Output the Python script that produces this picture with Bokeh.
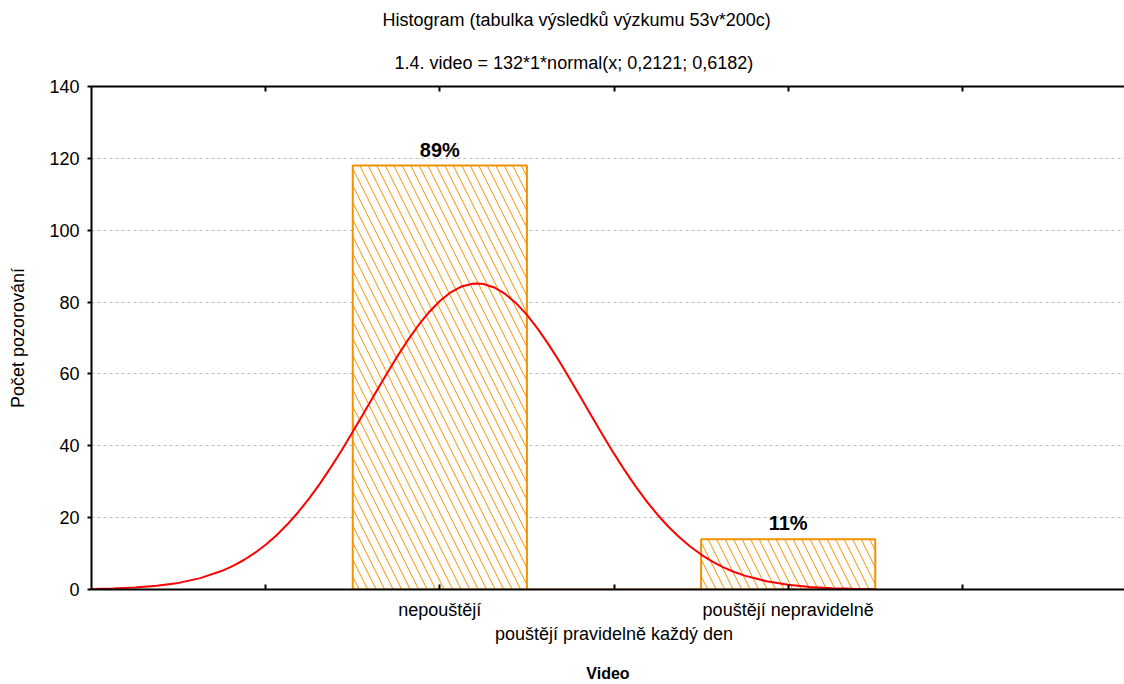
from bokeh.plotting import figure
from bokeh.models import Range1d, FixedTicker, LinearAxis, Title, ColumnDataSource
from bokeh.embed import file_html
from bokeh.resources import INLINE
from bokeh.core.properties import value

title_text = "Histogram (tabulka výsledků výzkumu 53v*200c)"
subtitle_text = "1.4. video = 132*1*normal(x; 0,2121; 0,6182)"
x_axis_title = "Video"
y_axis_title = "Počet pozorování"

categories = ["nepouštějí", "pouštějí pravidelně každý den", "pouštějí nepravidelně"]
category_x = [0, 1, 2]
counts = [118, 0, 14]
percent_labels = ["89%", "", "11%"]

y_ticks = [0, 20, 40, 60, 80, 100, 120, 140]
x_ticks = [-1, 0, 1, 2, 3]

# fitted normal curve
curve_x = [-2.0, -1.875, -1.75, -1.625, -1.5, -1.375, -1.25, -1.1875, -1.125, -1.0625,
           -1.0, -0.9375, -0.875, -0.8125, -0.75, -0.6875, -0.625, -0.5625, -0.5, -0.4375,
           -0.375, -0.3125, -0.25, -0.1875, -0.125, -0.0625, 0.0, 0.0625, 0.125, 0.1875,
           0.2121, 0.25, 0.3125, 0.375, 0.4375, 0.5, 0.5625, 0.625, 0.6875, 0.75,
           0.8125, 0.875, 0.9375, 1.0, 1.0625, 1.125, 1.1875, 1.25, 1.3125, 1.375,
           1.4375, 1.5, 1.5625, 1.625, 1.6875, 1.75, 1.875, 2.0, 2.125, 2.25,
           2.375, 2.5]
curve_y = [0.14, 0.29, 0.55, 1.03, 1.84, 3.16, 5.20, 6.57, 8.21, 10.17,
           12.46, 15.12, 18.15, 21.57, 25.38, 29.55, 34.06, 38.85, 43.88, 49.04,
           54.26, 59.42, 64.42, 69.12, 73.42, 77.18, 80.31, 82.72, 84.34, 85.11,
           85.18, 85.02, 84.06, 82.27, 79.70, 76.42, 72.54, 68.15, 63.37, 58.34,
           53.15, 47.93, 42.79, 37.81, 33.07, 28.63, 24.53, 20.81, 17.47, 14.52,
           11.95, 9.73, 7.84, 6.25, 4.94, 3.86, 2.29, 1.30, 0.71, 0.37,
           0.19, 0.09]

FONT = "Liberation Sans"
ORANGE = "#F39200"

p = figure(width=1124, height=684, output_backend="svg", toolbar_location=None,
           x_range=Range1d(-2, 3.931), y_range=Range1d(0, 140),
           min_border_left=91, min_border_right=0, min_border_top=86,
           min_border_bottom=60)
p.outline_line_color = None
p.background_fill_color = "white"
p.border_fill_color = "white"

xa = p.below[0]
ya = p.left[0]

# main title (p.title)
p.title.text = title_text
p.title.align = "left"
p.title.offset = 291
p.title.text_font = FONT
p.title.text_font_size = "18px"
p.title.text_font_style = "normal"
p.title.text_color = "black"
p.title.standoff = 15

# top axis (frame line with inward ticks, no labels)
top_axis = LinearAxis(ticker=FixedTicker(ticks=[], minor_ticks=x_ticks),
                      major_tick_in=5, major_tick_out=0,
                      minor_tick_in=5, minor_tick_out=0,
                      minor_tick_line_width=2, minor_tick_line_color="black",
                      axis_line_width=2, major_tick_line_width=2,
                      major_label_standoff=0)
p.add_layout(top_axis, "above")
p.add_layout(Title(text=subtitle_text, align="left", offset=303,
                   text_font=FONT, text_font_size="18px", standoff=27,
                   text_font_style="normal", text_color="black"), "above")

# grid
p.xgrid.visible = False
p.ygrid.ticker = FixedTicker(ticks=y_ticks)
p.ygrid.grid_line_color = "#BDBDBD"
p.ygrid.grid_line_dash = "3 3"
p.ygrid.grid_line_width = 1

# y axis
ya.ticker = FixedTicker(ticks=y_ticks)
ya.major_tick_out = 4
ya.major_tick_in = 0
ya.minor_tick_line_color = None
ya.axis_line_width = 2
ya.major_tick_line_width = 2
ya.major_label_text_font = FONT
ya.major_label_text_font_size = "18px"
ya.major_label_text_color = "black"
ya.major_label_standoff = 8
ya.axis_label = y_axis_title
ya.axis_label_text_font = FONT
ya.axis_label_text_font_size = "18px"
ya.axis_label_text_font_style = "normal"
ya.axis_label_text_color = "black"
ya.axis_label_standoff = 18

# x axis: labelled ticks at the categories, plain ticks at the others
xa.ticker = FixedTicker(ticks=category_x,
                        minor_ticks=[t for t in x_ticks if t not in category_x])
overrides = {}
for i, (cx, name) in enumerate(zip(category_x, categories)):
    overrides[cx] = ("\n" + name) if i % 2 == 1 else name
xa.major_label_overrides = overrides
xa.major_tick_in = 5
xa.major_tick_out = 0
xa.minor_tick_in = 5
xa.minor_tick_out = 0
xa.minor_tick_line_width = 2
xa.minor_tick_line_color = "black"
xa.axis_line_width = 2
xa.major_tick_line_width = 2
xa.major_label_text_font = FONT
xa.major_label_text_font_size = "18px"
xa.major_label_text_color = "black"
xa.major_label_standoff = 10
xa.axis_label = x_axis_title
xa.axis_label_text_font = FONT
xa.axis_label_text_font_size = "16px"
xa.axis_label_text_font_style = "bold"
xa.axis_label_text_color = "black"
xa.axis_label_standoff = 18

# bars
p.vbar(x=category_x, top=counts, bottom=0, width=1.0,
       fill_color="white", line_color=ORANGE, line_width=2,
       hatch_pattern="\\", hatch_color=ORANGE, hatch_scale=17, hatch_weight=1)

# percent labels (only for bars that have a label)
keep = [i for i, t in enumerate(percent_labels) if t]
label_src = ColumnDataSource(data=dict(
    x=[category_x[i] for i in keep],
    y=[counts[i] for i in keep],
    t=[percent_labels[i] for i in keep]))
p.text(x="x", y="y", text="t", source=label_src,
       text_align="center", text_baseline="bottom", y_offset=-5,
       text_font=value(FONT), text_font_size="20px", text_font_style="bold",
       text_color="black")

# normal curve
p.line(curve_x, curve_y, line_color="red", line_width=2)

open("out.html", "w").write(file_html(p, INLINE))
